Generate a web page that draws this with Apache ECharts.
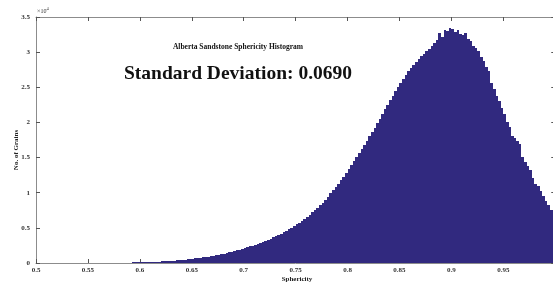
<!DOCTYPE html>
<html>
<head>
<meta charset="utf-8">
<script src="https://cdn.jsdelivr.net/npm/echarts@6/dist/echarts.min.js"></script>
<style>
html,body{margin:0;padding:0;background:#fff;overflow:hidden;width:553px;height:282px;}
#chart{width:560px;height:282px;}
</style>
</head>
<body>
<div id="chart"></div>
<script>
// ---- data ----
const titleText = 'Alberta Sandstone Sphericity Histogram';
const stdText = 'Standard Deviation: 0.0690';
const xAxisName = 'Sphericity';
const yAxisName = 'No. of Grains';
const xTicks = [0.5, 0.55, 0.6, 0.65, 0.7, 0.75, 0.8, 0.85, 0.9, 0.95, 1];
const yTicks = [0, 5000, 10000, 15000, 20000, 25000, 30000, 35000];
const binStart = 0.5;
const binWidth = 0.0025;
const counts = [
  0,0,0,0,0,0,0,0,0,0,
  0,0,0,0,0,0,0,0,0,0,
  0,0,0,0,0,0,0,0,5,10,
  15,25,30,40,50,60,70,80,90,100,
  110,125,135,150,160,175,190,205,220,240,
  260,285,310,335,365,395,430,465,505,550,
  600,645,695,745,800,855,915,980,1045,1115,
  1190,1265,1345,1430,1520,1610,1700,1800,1900,2010,
  2120,2230,2350,2470,2600,2730,2870,3010,3160,3310,
  3470,3640,3810,3990,4180,4380,4590,4800,5030,5260,
  5500,5760,6020,6300,6590,6890,7200,7520,7860,8200,
  8560,8940,9450,9900,10350,10820,11300,11800,12300,12850,
  13400,13950,14500,15050,15620,16200,16800,17400,18000,18620,
  19250,19900,20550,21200,21850,22500,23150,23800,24450,25050,
  25650,26200,26750,27250,27750,28200,28650,29050,29450,29800,
  30150,30450,30900,31300,31700,32700,32200,33200,33000,33400,
  33300,32800,33200,32600,32500,32700,31900,31600,30900,30600,
  30100,29300,28800,27900,27300,25600,24700,23700,23000,22100,
  21200,20100,19300,18000,17800,17300,16900,15100,14300,13800,
  13300,12100,11200,10900,10200,9600,8800,8300,7600,7100
];

const barData = counts.map((c, i) => [binStart + i * binWidth, binStart + (i + 1) * binWidth, c]);

const serif = "'Liberation Serif', 'DejaVu Serif', serif";
const axisColor = '#8c8c8c';
const labelStyle = { fontFamily: serif, fontSize: 7, fontWeight: 'bold', color: '#333' };
const barColor = '#31297f';

const chart = echarts.init(document.getElementById('chart'), null, { renderer: 'canvas' });

function baseX(pos, showLabel) {
  return {
    type: 'value', position: pos, min: xTicks[0], max: xTicks[xTicks.length - 1], interval: 0.05,
    axisLine: { show: true, onZero: false, lineStyle: { color: axisColor, width: 1 } },
    axisTick: { show: true, inside: true, length: 4, lineStyle: { color: '#555' } },
    axisLabel: Object.assign({ show: showLabel, margin: 4, formatter: v => String(+v.toFixed(2)) }, labelStyle),
    splitLine: { show: false }
  };
}
function baseY(pos, showLabel) {
  return {
    type: 'value', position: pos, min: yTicks[0], max: yTicks[yTicks.length - 1], interval: 5000,
    axisLine: { show: true, onZero: false, lineStyle: { color: axisColor, width: 1 } },
    axisTick: { show: true, inside: true, length: 4, lineStyle: { color: '#555' } },
    axisLabel: Object.assign({ show: showLabel, margin: 6, formatter: v => String(+(v / 10000).toFixed(1)) }, labelStyle),
    splitLine: { show: false }
  };
}

chart.setOption({
  animation: false,
  backgroundColor: '#fff',
  grid: { left: 36, top: 17, width: 520, height: 246, containLabel: false },
  xAxis: [baseX('bottom', true), baseX('top', false)],
  yAxis: [baseY('left', true), baseY('right', false)],
  series: [{
    type: 'custom',
    xAxisIndex: 0, yAxisIndex: 0,
    encode: { x: [0, 1], y: 2 },
    data: barData,
    renderItem: function (params, api) {
      const p0 = api.coord([api.value(0), api.value(2)]);
      const p1 = api.coord([api.value(1), 0]);
      const x0 = Math.round(p0[0]);
      const x1 = Math.round(p1[0]);
      const y0 = Math.round(p0[1]);
      const yb = Math.round(p1[1]);
      return {
        type: 'rect',
        shape: { x: x0, y: y0, width: x1 - x0, height: yb - y0 },
        style: { fill: barColor }
      };
    }
  }],
  graphic: [
    { type: 'text', x: 238, y: 47, style: { text: titleText, font: "bold 7.5px " + serif, fill: '#111', align: 'center', verticalAlign: 'middle' } },
    { type: 'text', x: 238, y: 74, style: { text: stdText, font: "bold 19.5px " + serif, fill: '#111', align: 'center', verticalAlign: 'middle' } },
    { type: 'text', x: 297, y: 279, style: { text: xAxisName, font: "bold 7px " + serif, fill: '#222', align: 'center', verticalAlign: 'middle' } },
    { type: 'text', x: 16, y: 150, rotation: Math.PI / 2, style: { text: yAxisName, font: "bold 7px " + serif, fill: '#222', align: 'center', verticalAlign: 'middle' } },
    { type: 'text', x: 37, y: 11, style: {
      text: '{a|×10}{b|4}',
      verticalAlign: 'middle',
      rich: {
        a: { fontFamily: serif, fontSize: 6, fill: '#333', color: '#333' },
        b: { fontFamily: serif, fontSize: 4.5, fill: '#333', color: '#333', verticalAlign: 'top', padding: [0, 0, 4, 0] }
      }
    } }
  ]
});
</script>
</body>
</html>
